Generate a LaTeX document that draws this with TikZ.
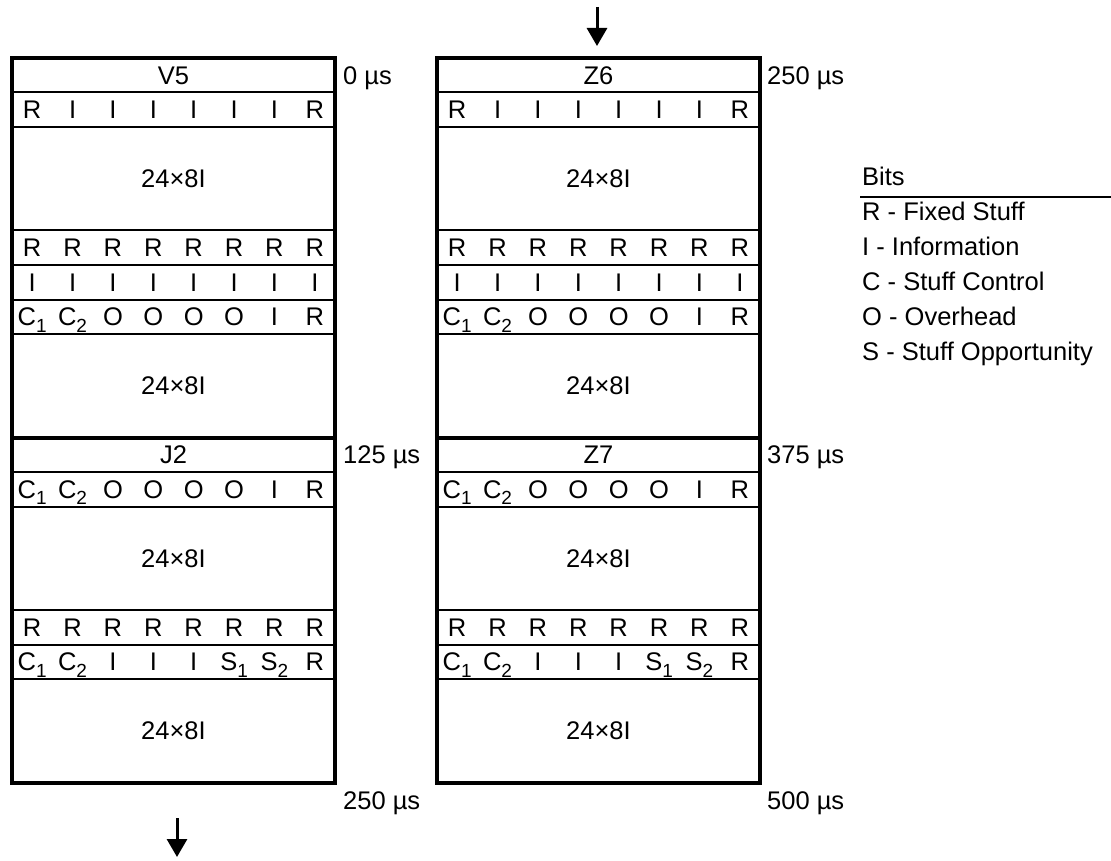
\documentclass[tikz,border=0pt]{standalone}
\usepackage{fontspec}
\setmainfont{Liberation Sans}
\usetikzlibrary{arrows.meta}
\newcommand\sbs[1]{\raisebox{-6.5pt}{\fontsize{19}{19}\selectfont #1}}
\newcommand\cellfont{\fontsize{25.5}{29}\selectfont}
\newcommand\cellrow[3]{%
  \foreach \cc [count=\k] in {#3} {\node[cell] (#1-\k) at ({\X+(\k-0.5)*40.375},#2) {\cc};}}
\newcommand\tdmframe[4]{% #1 x-left, #2 prefix, #3 top label, #4 mid label
  \def\X{#1}
  \foreach \b in {92.5,127,230.5,265,299.5,334,472,506.5,610,644.5,679}
    \draw[rowline] (\X,\b) -- (\X+323,\b);
  \draw[midline] (\X,437.5) -- (\X+323,437.5);
  \draw[outerline] (\X,58) rectangle (\X+323,782.5);
  \node[cell] (#2hdr) at (\X+161.5,75.25) {#3};
  \cellrow{#2r2}{109.75}{R,I,I,I,I,I,I,R}
  \node[cell] (#2b1) at (\X+161.5,178.75) {24×8I};
  \cellrow{#2r4}{247.75}{R,R,R,R,R,R,R,R}
  \cellrow{#2r5}{282.25}{I,I,I,I,I,I,I,I}
  \cellrow{#2r6}{316.75}{C\sbs{1},C\sbs{2},O,O,O,O,I,R}
  \node[cell] (#2b2) at (\X+161.5,385.75) {24×8I};
  \node[cell] (#2mid) at (\X+161.5,454.75) {#4};
  \cellrow{#2r9}{489.25}{C\sbs{1},C\sbs{2},O,O,O,O,I,R}
  \node[cell] (#2b3) at (\X+161.5,558.25) {24×8I};
  \cellrow{#2r11}{627.25}{R,R,R,R,R,R,R,R}
  \cellrow{#2r12}{661.75}{C\sbs{1},C\sbs{2},I,I,I,S\sbs{1},S\sbs{2},R}
  \node[cell] (#2b4) at (\X+161.5,730.75) {24×8I};
}
\begin{document}
\begin{tikzpicture}[x=1pt,y=-1pt,
  cell/.style={inner sep=0pt, text height=18.3pt, text depth=0pt, font=\cellfont},
  lbl/.style={cell, anchor=west},
  outerline/.style={line width=4pt},
  rowline/.style={line width=2pt},
  midline/.style={line width=4pt},
  legendrule/.style={line width=2.5pt},
  flow/.style={line width=3pt, -{Triangle[width=20pt,length=18pt]}}]
\useasboundingbox (0,0) rectangle (1111,861);
\fill[white] (0,0) rectangle (1111,861);

\tdmframe{12}{L}{V5}{J2}
\tdmframe{437}{R}{Z6}{Z7}

% time labels
\node[lbl] (t0)   at (343,75.25)  {0 µs};
\node[lbl] (t125) at (343,454.75) {125 µs};
\node[lbl] (t250) at (343,800)    {250 µs};
\node[lbl] (t250b) at (767,75.25)  {250 µs};
\node[lbl] (t375) at (767,454.75) {375 µs};
\node[lbl] (t500) at (767,800)    {500 µs};

% legend
\node[lbl] (bits) at (862,176) {Bits};
\coordinate (ruleL) at (860,197);
\coordinate (ruleR) at (1111,197);
\draw[legendrule] (ruleL) -- (ruleR);
\node[lbl] (lgR) at (862,211) {R - Fixed Stuff};
\node[lbl] (lgI) at (862,246) {I - Information};
\node[lbl] (lgC) at (862,281) {C - Stuff Control};
\node[lbl] (lgO) at (862,316) {O - Overhead};
\node[lbl] (lgS) at (862,351) {S - Stuff Opportunity};

% flow arrows
\coordinate (inTop) at (597,7);
\coordinate (inTip) at (597,46);
\draw[flow] (inTop) -- (inTip);
\coordinate (outTop) at (177,818);
\coordinate (outTip) at (177,857);
\draw[flow] (outTop) -- (outTip);
\end{tikzpicture}
\end{document}
